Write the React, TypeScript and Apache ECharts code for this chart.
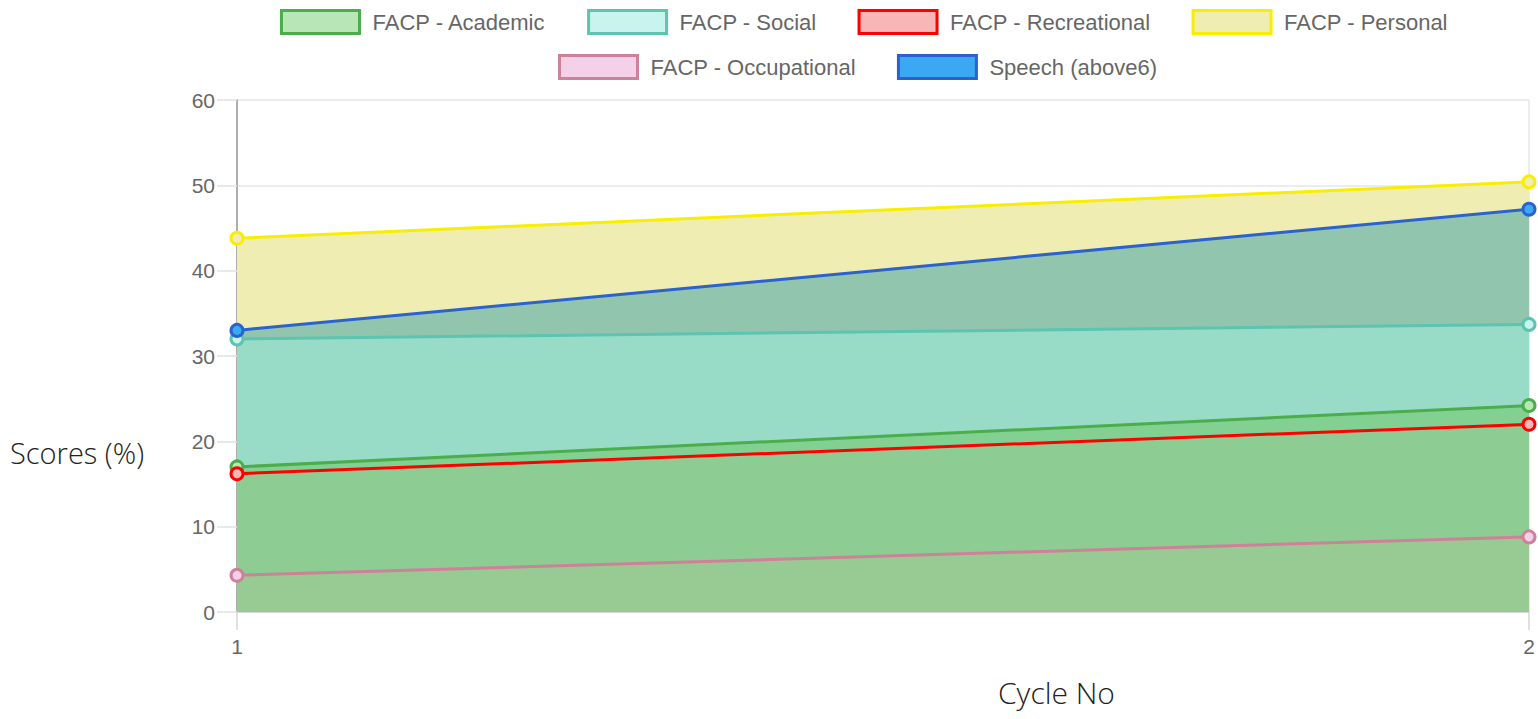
import React, { useEffect, useRef } from "react";
import * as echarts from "echarts";

const cycles = ["1", "2"];
const academic = [17.0, 24.2];
const social = [32.0, 33.7];
const recreational = [16.2, 22.0];
const personal = [43.8, 50.4];
const occupational = [4.3, 8.8];
const speech = [33.0, 47.2];
const yTicks = { min: 0, max: 60, interval: 10 };

type S = { name: string; data: number[]; line: string; fill: string; band: string };

const seriesDefs: S[] = [
  { name: "FACP - Academic", data: academic, line: "#4cad4c", fill: "#b9e6b6", band: "#82d092" },
  { name: "FACP - Social", data: social, line: "#5cc4b0", fill: "#c9f4ee", band: "#98dcc8" },
  { name: "FACP - Recreational", data: recreational, line: "#ff0000", fill: "#f8b6b6", band: "#8dcc93" },
  { name: "FACP - Personal", data: personal, line: "#f7ee00", fill: "#f0edb2", band: "#efedb2" },
  { name: "FACP - Occupational", data: occupational, line: "#cf8199", fill: "#f2d1e9", band: "#97cb93" },
  { name: "Speech (above6)", data: speech, line: "#2b62d0", fill: "#3ba8f3", band: "#92c5ad" },
];

const areaOrder = [
  "FACP - Personal",
  "Speech (above6)",
  "FACP - Social",
  "FACP - Academic",
  "FACP - Recreational",
  "FACP - Occupational",
];
const lineOrder = [
  "FACP - Personal",
  "FACP - Social",
  "FACP - Occupational",
  "FACP - Academic",
  "FACP - Recreational",
  "Speech (above6)",
];

export default function App() {
  const ref = useRef<HTMLDivElement>(null);
  useEffect(() => {
    const chart = echarts.init(ref.current!, null, { renderer: "svg" });
    const byName = (n: string) => seriesDefs.find((s) => s.name === n)!;
    const legendItem = (n: string) => {
      const s = byName(n);
      return {
        name: n,
        icon: "rect",
        itemStyle: { color: s.fill, borderColor: s.line, borderWidth: 3 },
      };
    };
    const legendCommon = {
      orient: "horizontal" as const,
      itemWidth: 78,
      itemHeight: 23,
      itemGap: 41,
      textStyle: {
        color: "#666",
        fontSize: 22,
        fontFamily: "Liberation Sans, Arial, sans-serif",
        padding: [0, 0, 0, 8],
      },
      selectedMode: false,
    };
    const areaSeries = areaOrder.map((n) => {
      const s = byName(n);
      return {
        name: "_area_" + n,
        type: "line",
        data: s.data,
        symbol: "none",
        lineStyle: { width: 0 },
        areaStyle: { color: s.band, opacity: 1 },
        z: 1,
        silent: true,
      };
    });
    const lineSeries = lineOrder.map((n, i) => {
      const s = byName(n);
      return {
        name: n,
        type: "line",
        data: s.data,
        symbol: "circle",
        symbolSize: 12,
        showSymbol: true,
        lineStyle: { width: 3, color: s.line },
        itemStyle: { color: s.fill, borderColor: s.line, borderWidth: 3 },
        z: 3 + i,
      };
    });
    chart.setOption({
      animation: false,
      backgroundColor: "#fff",
      legend: [
        { ...legendCommon, left: 275, top: 4, data: ["FACP - Academic", "FACP - Social", "FACP - Recreational", "FACP - Personal"].map(legendItem) },
        { ...legendCommon, left: 553, top: 49, data: ["FACP - Occupational", "Speech (above6)"].map(legendItem) },
      ],
      grid: { left: 237, right: 9, top: 100, bottom: 107, containLabel: false },
      xAxis: {
        type: "category",
        data: cycles,
        boundaryGap: false,
        axisLine: { show: true, lineStyle: { color: "#cfcfcf", width: 1.5 } },
        axisTick: { show: true, length: 18, lineStyle: { color: "#d6d6d6", width: 1.5 } },
        axisLabel: { color: "#666", fontSize: 21, margin: 24, fontFamily: "Liberation Sans, Arial, sans-serif" },
        splitLine: { show: true, lineStyle: { color: "#e6e6e6", width: 1.5 } },
      },
      yAxis: {
        type: "value",
        min: yTicks.min,
        max: yTicks.max,
        interval: yTicks.interval,
        axisLine: { show: true, lineStyle: { color: "#9a9a9a", width: 1.5 } },
        axisTick: { show: true, length: 20, lineStyle: { color: "#e0e0e0", width: 1.5 } },
        axisLabel: { color: "#666", fontSize: 21, margin: 22, fontFamily: "Liberation Sans, Arial, sans-serif" },
        splitLine: { show: true, lineStyle: { color: "#e6e6e6", width: 1.5 } },
      },
      graphic: [
        {
          type: "text",
          left: 10,
          top: 438,
          style: { text: "Scores (%)", fontSize: 29, fill: "#222", fontFamily: "Open Sans, sans-serif", fontWeight: 300 },
        },
        {
          type: "text",
          left: 998,
          top: 677,
          style: { text: "Cycle No", fontSize: 30, fill: "#222", fontFamily: "Open Sans, sans-serif", fontWeight: 300 },
        },
      ],
      series: [...areaSeries, ...lineSeries],
    });
    return () => chart.dispose();
  }, []);
  return <div ref={ref} style={{ position: "fixed", left: 0, top: 0, width: 1538, height: 719 }} />;
}
